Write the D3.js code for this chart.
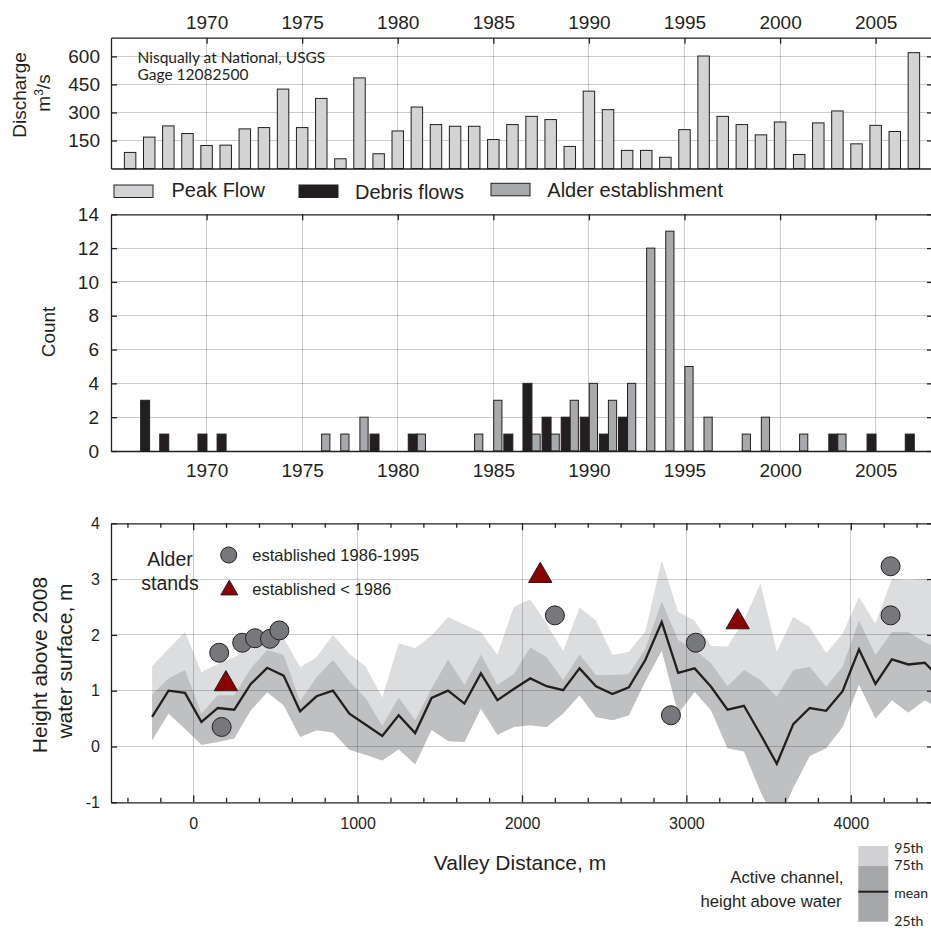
<!DOCTYPE html>
<html lang="en">
<head>
<meta charset="utf-8">
<style>
  body {margin: 0; background: #fff;}
  svg {display: block; font-family: "Liberation Sans", Arial, sans-serif;}
  .grid line {stroke: #000; stroke-opacity: 0.2; shape-rendering: crispEdges;}
  .axis path, .axis line {stroke: #231f20; stroke-width: 1.3;}
  .axis text {fill: #231f20;}
  .label {fill: #231f20;}
  .note {font-family: Lato, "Open Sans", sans-serif; fill: #231f20;}
</style>
</head>
<body>
<svg id="chart" width="931" height="930"></svg>
<script src="https://d3js.org/d3.v7.min.js"></script>
<script>
// ---- data ----
var flowYears = [1966,1967,1968,1969,1970,1971,1972,1973,1974,1975,1976,1977,1978,1979,1980,1981,1982,1983,1984,1985,1986,
                 1987,1988,1989,1990,1991,1992,1993,1994,1995,1996,1997,1998,1999,2000,2001,2002,2003,2004,2005,2006,2007];
var peakFlow = [86,168,228,187,123,125,212,219,425,219,375,52,485,79,201,329,235,226,226,155,235,
                279,262,118,414,315,97,97,60,208,602,279,235,180,249,75,244,308,132,231,198,620];

var debrisYears = [1967,1968,1970,1971,1979,1981,1986,1987,1988,1989,1990,1991,1992,2003,2005,2007];
var debrisCount = [3,1,1,1,1,1,1,4,2,2,2,1,2,1,1,1];
var alderYears = [1976,1977,1978,1981,1984,1985,1987,1988,1989,1990,1991,1992,1993,1994,1995,1996,1998,1999,2001,2003];
var alderCount = [1,1,2,1,1,3,1,1,3,4,3,4,12,13,5,2,1,2,1,1];

var yearTicks = [1970,1975,1980,1985,1990,1995,2000,2005];
var flowTicks = [150,300,450,600];
var countTicks = [0,2,4,6,8,10,12,14];

var distance = [-250,-150,-50,50,150,250,350,450,550,650,750,850,950,1050,1150,1250,1350,1450,1550,1650,1750,1850,1950,2050,
                2150,2250,2350,2450,2550,2650,2750,2850,2950,3050,3150,3250,3350,3450,3550,3650,3750,3850,3950,4050,4150,4250,4350,4450,4550];
var p95 = [1.44,1.75,2.05,1.33,1.48,1.60,1.78,1.96,1.95,1.42,1.60,2.00,1.66,1.43,0.88,1.85,1.76,1.99,2.32,2.18,2.05,1.64,2.50,2.64,
           2.20,1.71,2.49,2.26,1.64,1.70,2.06,3.34,2.41,2.26,1.80,1.79,2.26,2.92,1.70,2.32,2.14,1.67,2.02,2.68,2.20,3.01,2.98,3.01,2.86];
var p75 = [0.93,1.22,1.37,0.59,0.92,0.92,1.40,1.73,1.64,0.81,1.24,1.55,1.17,0.86,0.37,0.88,0.47,1.04,1.56,1.10,1.65,1.10,1.30,1.78,
           1.60,1.19,1.65,1.28,1.28,1.30,1.75,2.60,1.91,1.73,1.49,1.08,1.37,1.19,0.89,1.37,1.43,1.07,1.43,2.26,1.64,2.05,2.05,1.87,1.73];
var meanH = [0.53,1.00,0.96,0.44,0.69,0.66,1.12,1.41,1.27,0.63,0.90,1.00,0.59,0.39,0.19,0.56,0.24,0.87,1.00,0.77,1.31,0.83,1.03,1.22,
           1.08,1.01,1.40,1.08,0.94,1.06,1.55,2.23,1.32,1.40,1.07,0.66,0.73,0.22,-0.31,0.40,0.69,0.64,0.99,1.74,1.12,1.56,1.47,1.50,1.20];
var p25 = [0.11,0.59,0.32,0.03,0.08,0.15,0.65,0.97,0.74,0.17,0.29,0.25,-0.06,-0.15,-0.25,-0.05,-0.32,0.30,0.10,0.08,0.68,0.21,0.35,0.38,
           0.35,0.59,0.92,0.53,0.47,0.56,1.17,1.72,0.59,0.98,0.65,-0.03,-0.09,-0.80,-1.40,-0.74,-0.17,-0.03,0.35,1.11,0.50,0.83,0.61,0.83,0.65];

var youngDist = [158,173,298,376,467,524,2200,2906,3057,4242,4242];
var youngHeight = [1.68,0.35,1.86,1.94,1.93,2.08,2.35,0.56,1.86,3.23,2.35];
var oldDist = [199,2111,3312];
var oldHeight = [1.12,3.06,2.23];

var distMajor = [0,1000,2000,3000,4000];
var distMinor = [-400,-200,200,400,600,800,1200,1400,1600,1800,2200,2400,2600,2800,3200,3400,3600,3800,4200,4400];
var heightTicks = [-1,0,1,2,3,4];

// ---- setup ----
var svg = d3.select("#chart");
var ink = "#231f20";
var left = 111, right = 933;
var plain = d => String(d);   // keeps "-1" with an ordinary hyphen

function styleAxis(g, size) {
  g.attr("class", "axis").attr("font-size", size).attr("font-family", null);
}

var xYear = d3.scaleLinear().domain([1965, 2008]).range([left, right]);

// ================= top panel: peak flow =================
var fTop = 37.7, fBot = 168.5;
var yFlow = d3.scaleLinear().domain([0, 700]).range([fBot, fTop]);

var gridF = svg.append("g").attr("class", "grid");
gridF.selectAll(".v").data(yearTicks).enter().append("line")
  .attr("x1", d => xYear(d)).attr("x2", d => xYear(d)).attr("y1", fTop).attr("y2", fBot);
gridF.selectAll(".h").data(flowTicks).enter().append("line")
  .attr("x1", left).attr("x2", right).attr("y1", d => yFlow(d)).attr("y2", d => yFlow(d));

svg.append("g").selectAll("rect").data(flowYears).enter().append("rect")
  .attr("x", d => xYear(d - 0.3))
  .attr("width", d => xYear(d + 0.3) - xYear(d - 0.3))
  .attr("y", (d, i) => yFlow(peakFlow[i]))
  .attr("height", (d, i) => yFlow(0) - yFlow(peakFlow[i]))
  .attr("fill", "#d1d3d4").attr("stroke", ink).attr("stroke-width", 1);

svg.append("g").attr("transform", "translate(0," + fTop + ")")
  .call(d3.axisTop(xYear).tickValues(yearTicks).tickFormat(plain).tickSize(-6).tickSizeOuter(0).tickPadding(9))
  .call(styleAxis, 19);
svg.append("g").attr("transform", "translate(0," + fBot + ")")
  .call(d3.axisBottom(xYear).tickValues([]).tickSizeOuter(0)).call(styleAxis, 19);
svg.append("g").attr("transform", "translate(" + left + ",0)")
  .call(d3.axisLeft(yFlow).tickValues(flowTicks).tickFormat(plain).tickSize(-6).tickSizeOuter(0).tickPadding(11))
  .call(styleAxis, 19);
svg.append("g").attr("transform", "translate(" + right + ",0)")
  .call(d3.axisRight(yFlow).tickValues(flowTicks).tickSize(-6).tickSizeOuter(0).tickFormat(""))
  .call(styleAxis, 19);

svg.append("text").attr("class", "note").attr("x", 137.5).attr("y", 63.3).attr("font-size", 15.5)
  .text("Nisqually at National, USGS");
svg.append("text").attr("class", "note").attr("x", 137.5).attr("y", 80.3).attr("font-size", 15.5)
  .text("Gage 12082500");

svg.append("text").attr("class", "label").attr("font-size", 19).attr("text-anchor", "middle")
  .attr("transform", "translate(25.5,95) rotate(-90)").text("Discharge");
var unit = svg.append("text").attr("class", "label").attr("font-size", 19).attr("text-anchor", "middle")
  .attr("transform", "translate(49.5,93) rotate(-90)");
unit.append("tspan").text("m");
unit.append("tspan").attr("font-size", 12).attr("dy", -7).text("3");
unit.append("tspan").attr("dy", 7).text("/s");

// legend row
var legendRow = [
  {label: "Peak Flow", fill: "#d1d3d4", x: 114, y: 185, tx: 171.5, ty: 197},
  {label: "Debris flows", fill: ink, x: 299, y: 185, tx: 355, ty: 198.5},
  {label: "Alder establishment", fill: "#a7a9ac", x: 491, y: 183.3, tx: 547.3, ty: 196.7}
];
var lg = svg.append("g").selectAll("g").data(legendRow).enter().append("g");
lg.append("rect").attr("x", d => d.x).attr("y", d => d.y).attr("width", 39).attr("height", 12.5)
  .attr("fill", d => d.fill).attr("stroke", ink).attr("stroke-width", 1);
lg.append("text").attr("class", "label").attr("x", d => d.tx).attr("y", d => d.ty).attr("font-size", 20)
  .text(d => d.label);

// ================= middle panel: counts =================
var cTop = 214.3, cBot = 451;
var yCount = d3.scaleLinear().domain([0, 14]).range([cBot, cTop]);

var gridC = svg.append("g").attr("class", "grid");
gridC.selectAll(".v").data(yearTicks).enter().append("line")
  .attr("x1", d => xYear(d)).attr("x2", d => xYear(d)).attr("y1", cTop).attr("y2", cBot);
gridC.selectAll(".h").data(countTicks.slice(1, -1)).enter().append("line")
  .attr("x1", left).attr("x2", right).attr("y1", d => yCount(d)).attr("y2", d => yCount(d));

svg.append("g").selectAll("rect").data(debrisYears).enter().append("rect")
  .attr("x", d => xYear(d - 0.45))
  .attr("width", d => xYear(d + 0.02) - xYear(d - 0.45))
  .attr("y", (d, i) => yCount(debrisCount[i]))
  .attr("height", (d, i) => yCount(0) - yCount(debrisCount[i]))
  .attr("fill", ink).attr("stroke", ink).attr("stroke-width", 1);

svg.append("g").selectAll("rect").data(alderYears).enter().append("rect")
  .attr("x", d => xYear(d + 0.02))
  .attr("width", d => xYear(d + 0.45) - xYear(d + 0.02))
  .attr("y", (d, i) => yCount(alderCount[i]))
  .attr("height", (d, i) => yCount(0) - yCount(alderCount[i]))
  .attr("fill", "#a7a9ac").attr("stroke", ink).attr("stroke-width", 1);

svg.append("g").attr("transform", "translate(0," + cTop + ")")
  .call(d3.axisTop(xYear).tickValues(yearTicks).tickSize(-6).tickSizeOuter(0).tickFormat(""))
  .call(styleAxis, 19);
svg.append("g").attr("transform", "translate(0," + cBot + ")")
  .call(d3.axisBottom(xYear).tickValues(yearTicks).tickFormat(plain).tickSize(0).tickSizeOuter(0).tickPadding(12.5))
  .call(styleAxis, 19);
svg.append("g").attr("transform", "translate(" + left + ",0)")
  .call(d3.axisLeft(yCount).tickValues(countTicks).tickFormat(plain).tickSize(-6).tickSizeOuter(0).tickPadding(12))
  .call(styleAxis, 19);
svg.append("g").attr("transform", "translate(" + right + ",0)")
  .call(d3.axisRight(yCount).tickValues(countTicks).tickSize(-6).tickSizeOuter(0).tickFormat(""))
  .call(styleAxis, 19);

svg.append("text").attr("class", "label").attr("font-size", 19).attr("text-anchor", "middle")
  .attr("transform", "translate(55,332) rotate(-90)").text("Count");

// ================= bottom panel: heights =================
var hTop = 523.3, hBot = 802.3;
var xDist = d3.scaleLinear().domain([-500, 4500]).range([left, right]);
var yH = d3.scaleLinear().domain([-1, 4]).range([hBot, hTop]);

svg.append("clipPath").attr("id", "clipH").append("rect")
  .attr("x", left).attr("y", hTop).attr("width", right - left).attr("height", hBot - hTop);

var rows = distance.map((d, i) => ({d: d, p95: p95[i], p75: p75[i], m: meanH[i], p25: p25[i]}));
var plotH = svg.append("g").attr("clip-path", "url(#clipH)");

plotH.append("path").datum(rows).attr("fill", "#dcdddf")
  .attr("d", d3.area().x(d => xDist(d.d)).y0(d => yH(d.p25)).y1(d => yH(d.p95)));
plotH.append("path").datum(rows).attr("fill", "#bfc0c2")
  .attr("d", d3.area().x(d => xDist(d.d)).y0(d => yH(d.p25)).y1(d => yH(d.p75)));

var gridH = svg.append("g").attr("class", "grid");
gridH.selectAll(".v").data(distMajor).enter().append("line")
  .attr("x1", d => xDist(d)).attr("x2", d => xDist(d)).attr("y1", hTop).attr("y2", hBot);
gridH.selectAll(".h").data(heightTicks.slice(1, -1)).enter().append("line")
  .attr("x1", left).attr("x2", right).attr("y1", d => yH(d)).attr("y2", d => yH(d));

plotH.append("path").datum(rows).attr("fill", "none").attr("stroke", ink).attr("stroke-width", 2.3)
  .attr("stroke-linejoin", "miter")
  .attr("d", d3.line().x(d => xDist(d.d)).y(d => yH(d.m)));

// axes
[hTop, hBot].forEach(function (yy, k) {
  var maj = (k === 0 ? d3.axisTop(xDist) : d3.axisBottom(xDist))
    .tickValues(distMajor).tickSize(-7).tickSizeOuter(0).tickPadding(15.5)
    .tickFormat(k === 0 ? "" : plain);
  svg.append("g").attr("transform", "translate(0," + yy + ")").call(maj).call(styleAxis, 16);
  var mnr = (k === 0 ? d3.axisTop(xDist) : d3.axisBottom(xDist))
    .tickValues(distMinor).tickSize(-4.5).tickSizeOuter(0).tickFormat("");
  svg.append("g").attr("transform", "translate(0," + yy + ")").call(mnr).call(styleAxis, 16)
    .select(".domain").remove();
});
svg.append("g").attr("transform", "translate(" + left + ",0)")
  .call(d3.axisLeft(yH).tickValues(heightTicks).tickFormat(plain).tickSize(-6).tickSizeOuter(0).tickPadding(11))
  .call(styleAxis, 16);
svg.append("g").attr("transform", "translate(" + right + ",0)")
  .call(d3.axisRight(yH).tickValues(heightTicks).tickSize(-6).tickSizeOuter(0).tickFormat(""))
  .call(styleAxis, 16);

// alder stands
svg.append("g").selectAll("circle").data(youngDist).enter().append("circle")
  .attr("cx", d => xDist(d)).attr("cy", (d, i) => yH(youngHeight[i])).attr("r", 9.5)
  .attr("fill", "#77787b").attr("stroke", ink).attr("stroke-width", 1);
svg.append("g").selectAll("path").data(oldDist).enter().append("path")
  .attr("transform", (d, i) => "translate(" + xDist(d) + "," + yH(oldHeight[i]) + ")")
  .attr("d", d3.symbol(d3.symbolTriangle, 235))
  .attr("fill", "#8b0000").attr("stroke", ink).attr("stroke-width", 1);

// stand legend
svg.append("text").attr("class", "label").attr("font-size", 19.5).attr("text-anchor", "middle")
  .attr("x", 170).attr("y", 566).text("Alder");
svg.append("text").attr("class", "label").attr("font-size", 19.5).attr("text-anchor", "middle")
  .attr("x", 170).attr("y", 590).text("stands");
svg.append("circle").attr("cx", 228.7).attr("cy", 555).attr("r", 8)
  .attr("fill", "#77787b").attr("stroke", ink).attr("stroke-width", 1);
svg.append("path").attr("transform", "translate(229.3,590)")
  .attr("d", d3.symbol(d3.symbolTriangle, 125))
  .attr("fill", "#8b0000").attr("stroke", ink).attr("stroke-width", 1);
svg.append("text").attr("class", "label").attr("font-size", 16.5).attr("x", 252.3).attr("y", 560.5)
  .text("established 1986-1995");
svg.append("text").attr("class", "label").attr("font-size", 16.5).attr("x", 252.3).attr("y", 594.5)
  .text("established < 1986");

// axis titles
svg.append("text").attr("class", "label").attr("font-size", 21).attr("text-anchor", "middle")
  .attr("transform", "translate(46.5,665) rotate(-90)").text("Height above 2008");
svg.append("text").attr("class", "label").attr("font-size", 21).attr("text-anchor", "middle")
  .attr("transform", "translate(72,661) rotate(-90)").text("water surface, m");
svg.append("text").attr("class", "label").attr("font-size", 21).attr("text-anchor", "middle")
  .attr("x", 520).attr("y", 870).text("Valley Distance, m");

// percentile legend
var pl = svg.append("g");
pl.append("rect").attr("x", 858.3).attr("y", 846).attr("width", 30).attr("height", 20).attr("fill", "#d1d1d3");
pl.append("rect").attr("x", 858.3).attr("y", 866).attr("width", 30).attr("height", 55.7).attr("fill", "#a6a7a9");
pl.append("line").attr("x1", 858.3).attr("x2", 888.3).attr("y1", 891.7).attr("y2", 891.7)
  .attr("stroke", ink).attr("stroke-width", 2);
[["95th", 853.3], ["75th", 869.5], ["mean", 898], ["25th", 926]].forEach(function (t) {
  pl.append("text").attr("class", "note").attr("font-size", 14).attr("x", 894.3).attr("y", t[1]).text(t[0]);
});
pl.append("text").attr("class", "label").attr("font-size", 16.7).attr("text-anchor", "end")
  .attr("x", 843.5).attr("y", 883.3).text("Active channel,");
pl.append("text").attr("class", "label").attr("font-size", 16.7).attr("text-anchor", "end")
  .attr("x", 841.5).attr("y", 907.3).text("height above water");
</script>
</body>
</html>
